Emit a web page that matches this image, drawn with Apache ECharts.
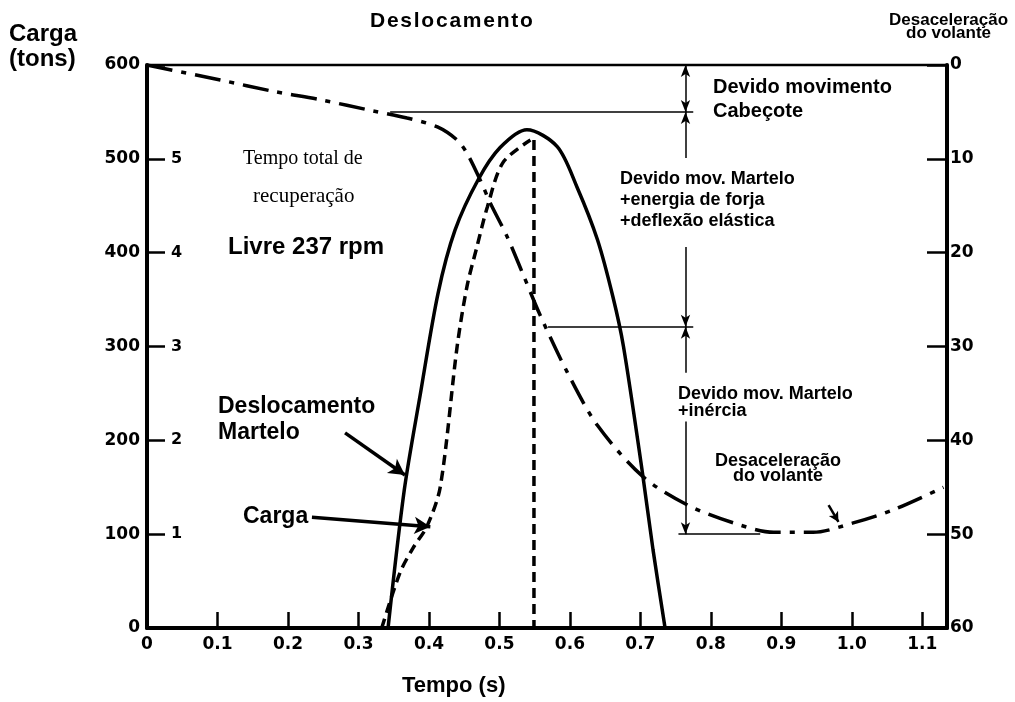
<!DOCTYPE html>
<html>
<head>
<meta charset="utf-8">
<script src="https://cdn.jsdelivr.net/npm/echarts@6/dist/echarts.min.js"></script>
<style>
  html, body { margin: 0; padding: 0; background: #fff; }
  #chart { width: 1015px; height: 702px; }
</style>
</head>
<body>
<div id="chart"></div>
<script>
// Tempo (s) e deslocamento do martelo (unidades 0-6)
const deslocTempo   = [0.342, 0.365, 0.3875, 0.413, 0.437, 0.470, 0.501, 0.539, 0.582, 0.610, 0.639, 0.661, 0.676, 0.703, 0.718, 0.735];
const deslocValores = [0,     1.47,  2.48,   3.57,  4.24,  4.78,  5.12,  5.31,  5.13,  4.70,  4.14,  3.53,  3.00,  1.65,  0.83,  0];

// Carga (tons): subida até o pico e queda vertical
const cargaTempo   = [0.333, 0.359, 0.378, 0.397, 0.416, 0.440, 0.454, 0.468, 0.483, 0.505, 0.544];
const cargaValores = [0,     59,    86,    108,   150,   300,   364,   406,   449,   496,   520];
const quedaTempo   = [0.549, 0.549];
const quedaValores = [520,   0];

// Desaceleração do volante (eixo direito, invertido)
const desacTempo   = [0, 0.104, 0.179, 0.246, 0.321, 0.369, 0.412, 0.440, 0.454, 0.473, 0.487, 0.511, 0.534, 0.558, 0.596, 0.639, 0.704, 0.767, 0.832, 0.889, 0.945, 1.002, 1.059, 1.130];
const desacValores = [0, 1.6,   2.8,   3.7,   4.9,   5.65,  6.6,   8.0,   9.4,   12.3,  14.7,  18.3,  22.4,  26.7,  32.7,  38.4,  43.9,  46.9,  48.8,  49.8,  49.8,  48.8,  47.4,  45.0];

// Linhas de cota e setas (tempo, carga em tons)
const cotaHorizontais = [
  [[0.345, 550], [0.775, 550]],
  [[0.569, 321], [0.775, 321]],
  [[0.754, 100], [0.870, 100]]
];
const cotaX = 0.764;
const cotaSetas = [
  // [carga inicial, carga final, seta no início, seta no fim]
  [600, 550, true,  true ],
  [501, 550, false, true ],
  [406, 321, false, true ],
  [272, 321, false, true ],
  [220, 100, false, true ]
];
const setaDeslocamento  = [[0.281, 208], [0.366, 163]];
const setaCarga         = [[0.234, 118], [0.402, 108]];
const setaDesaceleracao = [[0.967, 46.9], [0.981, 48.7]];

const xTicks = [0, 0.1, 0.2, 0.3, 0.4, 0.5, 0.6, 0.7, 0.8, 0.9, 1.0, 1.1];

const zip = (a, b) => a.map((v, i) => [v, b[i]]);
// texto com espaçamento extra entre as letras
const espacado = s => Array.from(s).join('\u200A');

const chart = echarts.init(document.getElementById('chart'));
const tickFont = { fontFamily: 'DejaVu Sans', fontWeight: 'bold', fontSize: 17, color: '#000' };
const black = '#000';
const sans = px => 'bold ' + px + 'px "Liberation Sans", Arial, sans-serif';

const cotaLinhas = cotaHorizontais.map(([a, b]) => [
  { coord: a, symbol: 'none' },
  { coord: b, symbol: 'none' }
]).concat(cotaSetas.map(([y1, y2, s1, s2]) => [
  { coord: [cotaX, y1], symbol: s1 ? 'arrow' : 'none' },
  { coord: [cotaX, y2], symbol: s2 ? 'arrow' : 'none' }
]));

const option = {
  animation: false,
  backgroundColor: '#fff',
  grid: { left: 147, right: 68, top: 65, bottom: 74, show: true, borderColor: black, borderWidth: 2.5, backgroundColor: 'transparent' },
  xAxis: {
    type: 'value', min: 0, max: 1.135, interval: 0.1,
    axisLine: { show: true, lineStyle: { color: black, width: 4 } },
    axisTick: { show: true, inside: true, length: 16, lineStyle: { color: black, width: 2.5 } },
    axisLabel: Object.assign({}, tickFont, {
      margin: 8, showMaxLabel: false,
      formatter: v => {
        const hit = xTicks.find(t => Math.abs(t - v) < 1e-6);
        if (hit === undefined) return '';
        if (hit === 0) return '0';
        return hit.toFixed(1);
      }
    }),
    splitLine: { show: false }
  },
  yAxis: [
    {
      type: 'value', position: 'left', min: 0, max: 600, interval: 100,
      axisLine: { show: true, lineStyle: { color: black, width: 4 } },
      axisTick: { show: true, inside: true, length: 18, lineStyle: { color: black, width: 2.5 } },
      axisLabel: Object.assign({}, tickFont, { margin: 7 }),
      splitLine: { show: false }
    },
    {
      type: 'value', position: 'left', min: 0, max: 6, interval: 1,
      axisLine: { show: false }, axisTick: { show: false },
      axisLabel: Object.assign({}, tickFont, {
        fontSize: 16, inside: true, margin: 24,
        formatter: v => (v >= 1 && v <= 5) ? String(v) : ''
      }),
      splitLine: { show: false }
    },
    {
      type: 'value', position: 'right', min: 0, max: 60, interval: 10, inverse: true,
      axisLine: { show: true, lineStyle: { color: black, width: 4 } },
      axisTick: { show: true, inside: true, length: 20, lineStyle: { color: black, width: 2.5 } },
      axisLabel: Object.assign({}, tickFont, { margin: 3 }),
      splitLine: { show: false }
    }
  ],
  series: [
    {
      name: 'Deslocamento Martelo', type: 'line', yAxisIndex: 1, smooth: 0.3,
      showSymbol: false, data: zip(deslocTempo, deslocValores),
      lineStyle: { color: black, width: 3.5 }
    },
    {
      name: 'Carga', type: 'line', yAxisIndex: 0, smooth: 0.3,
      showSymbol: false, data: zip(cargaTempo, cargaValores),
      lineStyle: { color: black, width: 3.5, type: [10, 6] }
    },
    {
      name: 'Carga queda', type: 'line', yAxisIndex: 0,
      showSymbol: false, data: zip(quedaTempo, quedaValores),
      lineStyle: { color: black, width: 3.5, type: [10, 6] }
    },
    {
      name: 'Desaceleração do volante', type: 'line', yAxisIndex: 2, smooth: 0.3,
      showSymbol: false, data: zip(desacTempo, desacValores),
      lineStyle: { color: black, width: 3.5, type: [26, 9, 5, 9] }
    },
    {
      name: 'cotas', type: 'line', yAxisIndex: 0, data: [],
      markLine: {
        silent: true, symbolSize: [7, 12], label: { show: false },
        lineStyle: { color: black, width: 1.5, type: 'solid' },
        emphasis: { disabled: true },
        data: cotaLinhas
      }
    },
    {
      name: 'setas', type: 'line', yAxisIndex: 0, data: [],
      markLine: {
        silent: true, symbolSize: [13, 16], label: { show: false },
        lineStyle: { color: black, width: 3.5, type: 'solid' },
        emphasis: { disabled: true },
        data: [
          [{ coord: setaDeslocamento[0], symbol: 'none' }, { coord: setaDeslocamento[1], symbol: 'arrow' }],
          [{ coord: setaCarga[0], symbol: 'none' }, { coord: setaCarga[1], symbol: 'arrow' }]
        ]
      }
    },
    {
      name: 'seta desaceleração', type: 'line', yAxisIndex: 2, data: [],
      markLine: {
        silent: true, symbolSize: [8, 10], label: { show: false },
        lineStyle: { color: black, width: 2.5, type: 'solid' },
        emphasis: { disabled: true },
        data: [
          [{ coord: setaDesaceleracao[0], symbol: 'none' }, { coord: setaDesaceleracao[1], symbol: 'arrow' }]
        ]
      }
    }
  ],
  graphic: [
    { type: 'text', left: 370, top: 11, style: { text: espacado('Deslocamento'), font: sans(21), fill: black } },
    { type: 'text', left: 9, top: 22, style: { text: 'Carga\n(tons)', font: sans(24), lineHeight: 25, fill: black } },
    { type: 'text', left: 889, top: 12, style: { text: 'Desaceleração\ndo volante', font: sans(17), lineHeight: 13, textAlign: 'center', fill: black } },
    { type: 'text', left: 402, top: 675, style: { text: 'Tempo (s)', font: sans(22), fill: black } },
    { type: 'text', left: 243, top: 149, style: { text: 'Tempo total de', font: '20px "Liberation Serif", serif', fill: black } },
    { type: 'text', left: 253, top: 186, style: { text: 'recuperação', font: '21px "Liberation Serif", serif', fill: black } },
    { type: 'text', left: 228, top: 235, style: { text: 'Livre 237 rpm', font: sans(24), fill: black } },
    { type: 'text', left: 713, top: 75, style: { text: 'Devido movimento\nCabeçote', font: sans(20), lineHeight: 24, fill: black } },
    { type: 'text', left: 620, top: 169, style: { text: 'Devido mov. Martelo\n+energia de forja\n+deflexão elástica', font: sans(18), lineHeight: 21, fill: black } },
    { type: 'text', left: 678, top: 385, style: { text: 'Devido mov. Martelo\n+inércia', font: sans(18), lineHeight: 17, fill: black } },
    { type: 'text', left: 715, top: 452, style: { text: 'Desaceleração\ndo volante', font: sans(18), lineHeight: 15, textAlign: 'center', fill: black } },
    { type: 'text', left: 218, top: 394, style: { text: 'Deslocamento\nMartelo', font: sans(23), lineHeight: 26, fill: black } },
    { type: 'text', left: 243, top: 505, style: { text: 'Carga', font: sans(23), fill: black } }
  ]
};

chart.setOption(option);
</script>
</body>
</html>
